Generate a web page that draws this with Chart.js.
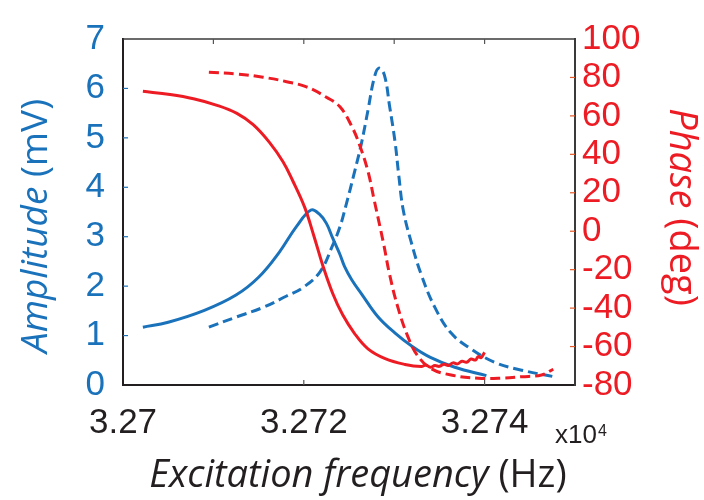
<!DOCTYPE html>
<html>
<head>
<meta charset="utf-8">
<script src="https://cdn.jsdelivr.net/npm/chart.js@4.4.1/dist/chart.umd.min.js"></script>
<style>
  html, body { margin: 0; padding: 0; background: #fff; }
  #wrap { width: 704px; height: 500px; }
</style>
</head>
<body>
<div id="wrap"><canvas id="resChart"></canvas></div>
<script>
// measured amplitude (solid blue), mV
const freqAmpMeas = [32702.2, 32705, 32709, 32712.5, 32715, 32717.3, 32719.2, 32720.8, 32721.7, 32722.5, 32723.2, 32724.0, 32724.5, 32725.3, 32726.4, 32728.2, 32730.1, 32732, 32734, 32736.7, 32740.2];
const ampMeas = [1.17, 1.27, 1.51, 1.82, 2.18, 2.69, 3.21, 3.54, 3.46, 3.27, 2.97, 2.64, 2.40, 2.13, 1.84, 1.38, 1.05, 0.78, 0.56, 0.36, 0.19];

// second amplitude curve (dashed blue), mV
const freqAmpFit = [32709.5, 32712.6, 32715.5, 32718.1, 32719.9, 32721.8, 32723.2, 32724.0, 32724.6, 32725.6, 32726.4, 32727.1, 32727.8, 32728.3, 32728.9, 32729.5, 32730.1, 32730.5, 32731.0, 32731.9, 32733.0, 32734.5, 32736.3, 32738.5, 32741.1, 32744.1, 32747.6];
const ampFit = [1.17, 1.38, 1.57, 1.80, 1.97, 2.29, 2.83, 3.20, 3.59, 4.30, 4.91, 5.56, 6.22, 6.41, 6.28, 5.63, 4.91, 4.25, 3.54, 2.88, 2.23, 1.57, 1.05, 0.73, 0.46, 0.30, 0.17];

// measured phase (solid red), deg
const freqPhaseMeas = [32702.2, 32705.2, 32707.8, 32710.4, 32712.6, 32714.4, 32716.2, 32717.7, 32718.8, 32720.1, 32721.1, 32722.1, 32723.2, 32724.3, 32725.6, 32727.1, 32729.0, 32731.2, 32733.0, 32733.5, 32734.0, 32734.5, 32735.0, 32735.5, 32736.0, 32736.5, 32737.0, 32737.5, 32738.0, 32738.5, 32739.0, 32739.3, 32739.6, 32740.0];
const phaseMeas = [72.8, 71.1, 68.9, 65.5, 61.3, 55.4, 46.2, 36.1, 26.0, 12.4, -2.2, -17.8, -32.4, -43.5, -53.1, -61.2, -66.3, -69.3, -70.4, -69.6, -70.8, -69.9, -70.3, -69.2, -69.8, -68.5, -69.0, -67.6, -68.2, -66.5, -67.0, -65.2, -65.8, -63.0];

// second phase curve (dashed red), deg
const freqPhaseFit = [32709.5, 32712.6, 32715.5, 32718.1, 32720.3, 32722.5, 32724.0, 32725.3, 32726.2, 32727.1, 32727.8, 32728.8, 32729.5, 32730.4, 32731.5, 32732.6, 32734.1, 32736.3, 32739.3, 32741.8, 32744.1, 32746.3, 32747.6];
const phaseFit = [82.7, 81.8, 80.1, 77.8, 75.1, 69.7, 64.7, 54.6, 44.5, 31.1, 15.9, -5.9, -22.7, -39.5, -54.7, -64.8, -71.5, -74.8, -76.5, -76.5, -75.7, -74.8, -71.8];

const xTicksTop = [32710, 32720, 32730, 32740];

const blue = "#1a72bb";
const red = "#ed1c24";
const ink = "#231f20";

function toPoints(xs, ys) {
    return xs.map((x, i) => ({ x: x, y: ys[i] }));
}

// titles, inner tick marks, top frame line and the x10^4 note
const decorPlugin = {
    id: "decor",
    afterDraw(chart) {
        const ctx = chart.ctx;
        const area = chart.chartArea;
        const sx = chart.scales.x;
        const sy = chart.scales.y;
        const sy1 = chart.scales.y1;

        ctx.save();
        // top frame
        ctx.strokeStyle = "#3a3a3a";
        ctx.lineWidth = 1.5;
        ctx.beginPath();
        ctx.moveTo(area.left, area.top);
        ctx.lineTo(area.right, area.top);
        ctx.stroke();

        ctx.lineWidth = 1.2;
        // left ticks
        ctx.strokeStyle = blue;
        sy.ticks.forEach(t => {
            if (t.value <= sy.min || t.value >= sy.max) return;
            const y = sy.getPixelForValue(t.value);
            ctx.beginPath(); ctx.moveTo(area.left, y); ctx.lineTo(area.left + 5, y); ctx.stroke();
        });
        // right ticks
        ctx.strokeStyle = "#e35b2c";
        sy1.ticks.forEach(t => {
            if (t.value <= sy1.min || t.value >= sy1.max) return;
            const y = sy1.getPixelForValue(t.value);
            ctx.beginPath(); ctx.moveTo(area.right, y); ctx.lineTo(area.right - 5, y); ctx.stroke();
        });
        // bottom and top ticks
        ctx.strokeStyle = "#555";
        sx.ticks.forEach(t => {
            if (t.value <= sx.min) return;
            const x = sx.getPixelForValue(t.value);
            ctx.beginPath(); ctx.moveTo(x, area.bottom); ctx.lineTo(x, area.bottom - 5); ctx.stroke();
        });
        xTicksTop.forEach(v => {
            const x = sx.getPixelForValue(v);
            ctx.beginPath(); ctx.moveTo(x, area.top); ctx.lineTo(x, area.top + 5); ctx.stroke();
        });

        // mixed italic / upright titles
        function mixed(parts, cx, cy, angle, color) {
            ctx.save();
            ctx.translate(cx, cy);
            ctx.rotate(angle);
            ctx.fillStyle = color;
            ctx.textBaseline = "alphabetic";
            ctx.textAlign = "left";
            let total = 0;
            parts.forEach(p => { ctx.font = p.font; total += ctx.measureText(p.text).width; });
            let x = -total / 2;
            parts.forEach(p => {
                ctx.font = p.font;
                ctx.fillText(p.text, x, 0);
                x += ctx.measureText(p.text).width;
            });
            ctx.restore();
        }
        const fam = "'Open Sans'";
        mixed([{ text: "Excitation frequency ", font: "italic 38px " + fam },
               { text: "(Hz)", font: "38px " + fam }], 358, 487, 0, ink);
        mixed([{ text: "Amplitude ", font: "italic 37px " + fam },
               { text: "(mV)", font: "37px " + fam }], 47, 226, -Math.PI / 2, blue);
        mixed([{ text: "Phase ", font: "italic 38px " + fam },
               { text: "(deg)", font: "38px " + fam }], 670, 207, Math.PI / 2, red);

        // x10^4
        ctx.fillStyle = ink;
        ctx.textAlign = "left";
        ctx.textBaseline = "alphabetic";
        ctx.font = "26px 'Liberation Sans'";
        ctx.fillText("x10", 555, 443);
        const w = ctx.measureText("x10").width;
        ctx.font = "16px 'Liberation Sans'";
        ctx.fillText("4", 555 + w + 1, 436);
        ctx.restore();
    }
};

const ctx = document.getElementById("resChart");

new Chart(ctx, {
    type: "line",
    data: {
        datasets: [
            {
                data: toPoints(freqPhaseMeas, phaseMeas),
                yAxisID: "y1",
                borderColor: red,
                borderWidth: 3
            },
            {
                data: toPoints(freqPhaseFit, phaseFit),
                yAxisID: "y1",
                borderColor: red,
                borderWidth: 3,
                borderDash: [10, 5]
            },
            {
                data: toPoints(freqAmpMeas, ampMeas),
                yAxisID: "y",
                borderColor: blue,
                borderWidth: 3
            },
            {
                data: toPoints(freqAmpFit, ampFit),
                yAxisID: "y",
                borderColor: blue,
                borderWidth: 3,
                borderDash: [10, 5]
            }
        ]
    },
    options: {
        responsive: true,
        maintainAspectRatio: false,
        animation: false,
        devicePixelRatio: 1,
        layout: { padding: { top: 28, left: 0, right: 0, bottom: 0 } },
        elements: {
            point: { radius: 0 },
            line: { tension: 0.4, fill: false }
        },
        plugins: {
            legend: { display: false },
            tooltip: { enabled: false }
        },
        scales: {
            x: {
                type: "linear",
                min: 32700,
                max: 32750,
                grid: { display: false, drawTicks: false },
                border: { color: ink, width: 2 },
                ticks: {
                    stepSize: 20,
                    includeBounds: false,
                    autoSkip: false,
                    maxRotation: 0,
                    padding: 17,
                    color: ink,
                    font: { family: "'Liberation Sans'", size: 35 },
                    callback: v => (v / 1e4).toString()
                },
                afterFit: s => { s.height = 115; }
            },
            y: {
                position: "left",
                min: 0,
                max: 7,
                grid: { display: false, drawTicks: false },
                border: { color: ink, width: 2 },
                ticks: {
                    stepSize: 1,
                    autoSkip: false,
                    padding: 18,
                    color: blue,
                    font: { family: "'Liberation Sans'", size: 35 }
                },
                afterFit: s => { s.width = 123; }
            },
            y1: {
                position: "right",
                min: -80,
                max: 100,
                grid: { display: false, drawTicks: false },
                border: { color: "#3a3a3a", width: 2 },
                ticks: {
                    stepSize: 20,
                    autoSkip: false,
                    padding: 7,
                    color: red,
                    font: { family: "'Liberation Sans'", size: 35 }
                },
                afterFit: s => { s.width = 129; }
            }
        }
    },
    plugins: [decorPlugin]
});
</script>
</body>
</html>
